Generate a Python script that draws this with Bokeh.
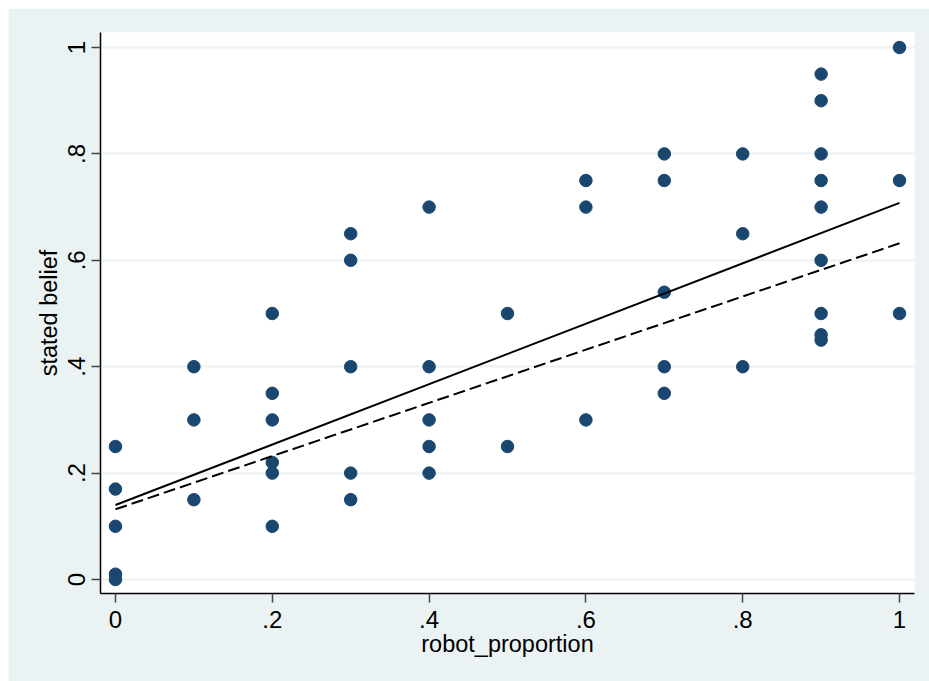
from bokeh.plotting import figure
from bokeh.models import Range1d, FixedTicker
from bokeh.embed import file_html
from bokeh.resources import INLINE

# data
x_vals = [0, 0, 0, 0, 0,
          0.1, 0.1, 0.1,
          0.2, 0.2, 0.2, 0.2, 0.2, 0.2,
          0.3, 0.3, 0.3, 0.3, 0.3,
          0.4, 0.4, 0.4, 0.4, 0.4,
          0.5, 0.5,
          0.6, 0.6, 0.6,
          0.7, 0.7, 0.7, 0.7, 0.7,
          0.8, 0.8, 0.8,
          0.9, 0.9, 0.9, 0.9, 0.9, 0.9, 0.9, 0.9, 0.9,
          1.0, 1.0, 1.0]
y_vals = [0.25, 0.17, 0.10, 0.01, 0.0,
          0.40, 0.30, 0.15,
          0.50, 0.35, 0.30, 0.22, 0.20, 0.10,
          0.65, 0.60, 0.40, 0.20, 0.15,
          0.70, 0.40, 0.30, 0.25, 0.20,
          0.50, 0.25,
          0.75, 0.70, 0.30,
          0.80, 0.75, 0.54, 0.40, 0.35,
          0.80, 0.65, 0.40,
          0.95, 0.90, 0.80, 0.75, 0.70, 0.60, 0.50, 0.46, 0.45,
          1.00, 0.75, 0.50]
fit_x = [0.0, 1.0]
fit_solid = [0.140, 0.708]
fit_dashed = [0.132, 0.632]
x_ticks = [0, 0.2, 0.4, 0.6, 0.8, 1.0]
y_ticks = [0, 0.2, 0.4, 0.6, 0.8, 1.0]
tick_labels = {0: "0", 0.2: ".2", 0.4: ".4", 0.6: ".6", 0.8: ".8", 1.0: "1"}

BG = "#EAF2F3"
PT = "#1A476F"
FONT = "Liberation Sans"

p = figure(width=921, height=673, output_backend="svg", toolbar_location=None,
           x_range=Range1d(-0.0191, 1.0191), y_range=Range1d(-0.0263, 1.0282),
           min_border_left=92, min_border_right=15, min_border_top=24, min_border_bottom=88)
p.margin = (8, 0, 0, 8)
p.background_fill_color = "white"
p.border_fill_color = BG
p.outline_line_color = None

p.scatter(x_vals, y_vals, size=12.5, color=PT, line_color=PT)
p.line(fit_x, fit_solid, line_color="black", line_width=2)
p.line(fit_x, fit_dashed, line_color="black", line_width=2, line_dash="12 5")

for ax in (p.xaxis[0], p.yaxis[0]):
    ax.axis_line_color = "black"
    ax.axis_line_width = 1.5
    ax.major_tick_line_color = "#444444"
    ax.major_tick_line_width = 1.5
    ax.major_tick_out = 9
    ax.major_tick_in = 0
    ax.minor_tick_line_color = None
    ax.major_label_text_font = FONT
    ax.major_label_text_font_size = "24px"
    ax.major_label_text_color = "black"
    ax.axis_label_text_font = FONT
    ax.axis_label_text_font_size = "23.5px"
    ax.axis_label_text_font_style = "normal"
    ax.axis_label_text_color = "black"

p.xaxis.ticker = FixedTicker(ticks=x_ticks)
p.yaxis.ticker = FixedTicker(ticks=y_ticks)
p.xaxis.major_label_overrides = {t: tick_labels[t] for t in x_ticks}
p.yaxis.major_label_overrides = {t: tick_labels[t] for t in y_ticks}
p.yaxis.major_label_orientation = "parallel"
p.xaxis.axis_label = "robot_proportion"
p.yaxis.axis_label = "stated belief"
p.xaxis.major_label_standoff = 8
p.yaxis.major_label_standoff = 6
p.xaxis.axis_label_standoff = 0
p.yaxis.axis_label_standoff = 4

p.xgrid.grid_line_color = None
p.ygrid.grid_line_color = BG
p.ygrid.grid_line_width = 2
p.ygrid.ticker = FixedTicker(ticks=y_ticks)

open("out.html", "w").write(file_html(p, INLINE))
